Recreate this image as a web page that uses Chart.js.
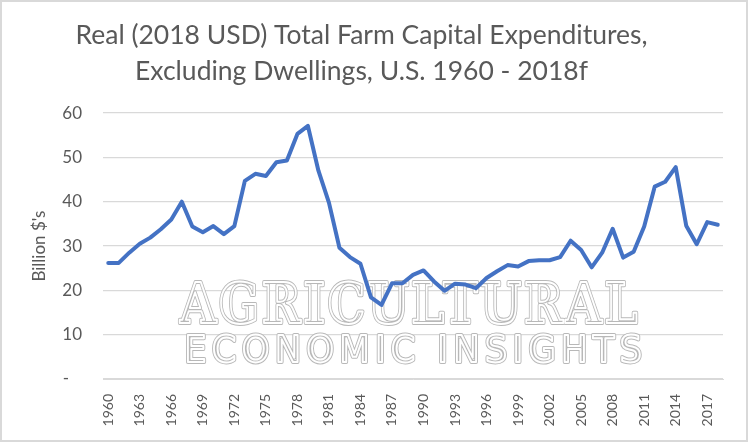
<!DOCTYPE html>
<html>
<head>
<meta charset="utf-8">
<script src="https://cdn.jsdelivr.net/npm/chart.js@4.4.1/dist/chart.umd.min.js"></script>
<style>
  html, body { margin: 0; padding: 0; background: #fff; }
  #wrap { width: 748px; height: 442px; position: relative; }
</style>
</head>
<body>
<div id="wrap"><canvas id="capexChart" width="748" height="442"></canvas></div>
<script>
// categories: calendar years, 2018 is a forecast
var years = [
    '1960', '1961', '1962', '1963', '1964', '1965', '1966', '1967', '1968', '1969',
    '1970', '1971', '1972', '1973', '1974', '1975', '1976', '1977', '1978', '1979',
    '1980', '1981', '1982', '1983', '1984', '1985', '1986', '1987', '1988', '1989',
    '1990', '1991', '1992', '1993', '1994', '1995', '1996', '1997', '1998', '1999',
    '2000', '2001', '2002', '2003', '2004', '2005', '2006', '2007', '2008', '2009',
    '2010', '2011', '2012', '2013', '2014', '2015', '2016', '2017', '2018'
];

// real capital expenditures, billion 2018 USD
var capex = [
    26.2, 26.2, 28.5, 30.5, 31.9, 33.8, 36.0, 40.0, 34.4, 33.1,
    34.5, 32.7, 34.5, 44.7, 46.3, 45.8, 48.9, 49.3, 55.3, 57.1,
    47.0, 39.8, 29.6, 27.5, 26.0, 18.4, 16.7, 21.6, 21.6, 23.5,
    24.5, 22.0, 19.9, 21.5, 21.3, 20.5, 22.8, 24.3, 25.7, 25.4,
    26.6, 26.8, 26.8, 27.5, 31.2, 29.1, 25.2, 28.5, 33.9, 27.4,
    28.7, 34.4, 43.4, 44.5, 47.8, 34.6, 30.4, 35.4, 34.8
];

var titleLines = ['Real (2018 USD) Total Farm Capital Expenditures,', 'Excluding Dwellings, U.S. 1960 - 2018f'];
var yTicks = [0, 10, 20, 30, 40, 50, 60];

var textGrey = '#595959';
var gridGrey = '#d9d9d9';

// outlined "watermark" text behind the line, plus the outer chart border
var decor = {
    id: 'decor',
    beforeDatasetsDraw: function(chart) {
        var ctx = chart.ctx;
        ctx.save();
        ctx.textAlign = 'center';
        ctx.textBaseline = 'alphabetic';
        var rows = [
            { text: 'AGRICULTURAL', font: 'bold 56px "DejaVu Serif"', x: 410, y: 323, w: 460, sp: '3px' },
            { text: 'ECONOMIC INSIGHTS', font: '37px "DejaVu Sans"', x: 416, y: 362, w: 463, sp: '6px' }
        ];
        rows.forEach(function(r) {
            ctx.font = r.font;
            ctx.letterSpacing = r.sp;
            ctx.lineJoin = 'round';
            ctx.strokeStyle = '#b8b8b8';
            ctx.lineWidth = 4;
            ctx.strokeText(r.text, r.x, r.y, r.w);
            ctx.strokeStyle = '#ffffff';
            ctx.lineWidth = 2;
            ctx.strokeText(r.text, r.x, r.y, r.w);
        });
        ctx.restore();
    },
    afterDraw: function(chart) {
        var ctx = chart.ctx;
        ctx.save();
        ctx.strokeStyle = gridGrey;
        ctx.lineWidth = 2;
        ctx.strokeRect(1, 1, chart.width - 2, chart.height - 2);
        ctx.restore();
    }
};

var ctxCapex = document.getElementById('capexChart').getContext('2d');
new Chart(ctxCapex, {
    type: 'line',
    data: {
        labels: years,
        datasets: [{
            label: 'Capital expenditures',
            data: capex,
            borderColor: '#4472C4',
            backgroundColor: '#4472C4',
            borderWidth: 4,
            pointRadius: 0,
            tension: 0,
            borderJoinStyle: 'round',
            borderCapStyle: 'round'
        }]
    },
    options: {
        responsive: false,
        animation: false,
        devicePixelRatio: 1,
        layout: { padding: { top: 0, right: 25, bottom: 0, left: 0 } },
        plugins: {
            legend: { display: false },
            tooltip: { enabled: false },
            title: {
                display: true,
                text: titleLines,
                color: textGrey,
                font: { family: 'Lato', size: 26.5, weight: 'normal', lineHeight: 1.36 },
                padding: { top: 17, bottom: 24 }
            }
        },
        scales: {
            x: {
                offset: true,
                grid: { display: false },
                border: { display: true, color: gridGrey },
                afterFit: function(scale) { scale.height = 63; },
                ticks: {
                    autoSkip: false,
                    maxRotation: 90,
                    minRotation: 90,
                    padding: 7,
                    color: textGrey,
                    font: { family: 'Lato', size: 14 },
                    callback: function(value, index) {
                        return index % 3 === 0 ? years[index] : '';
                    }
                }
            },
            y: {
                min: yTicks[0],
                max: yTicks[yTicks.length - 1],
                afterFit: function(scale) { scale.width = 103; },
                grid: { color: gridGrey, lineWidth: 1.3, drawTicks: false },
                border: { display: false },
                title: {
                    display: true,
                    text: "Billion $'s",
                    color: textGrey,
                    font: { family: 'Lato', size: 17 },
                    padding: { top: 29, bottom: 0 }
                },
                ticks: {
                    stepSize: 10,
                    padding: 21,
                    color: textGrey,
                    font: { family: 'Lato', size: 17 },
                    callback: function(value) {
                        return value === 0 ? '-   ' : value;
                    }
                }
            }
        }
    },
    plugins: [decor]
});
</script>
</body>
</html>
